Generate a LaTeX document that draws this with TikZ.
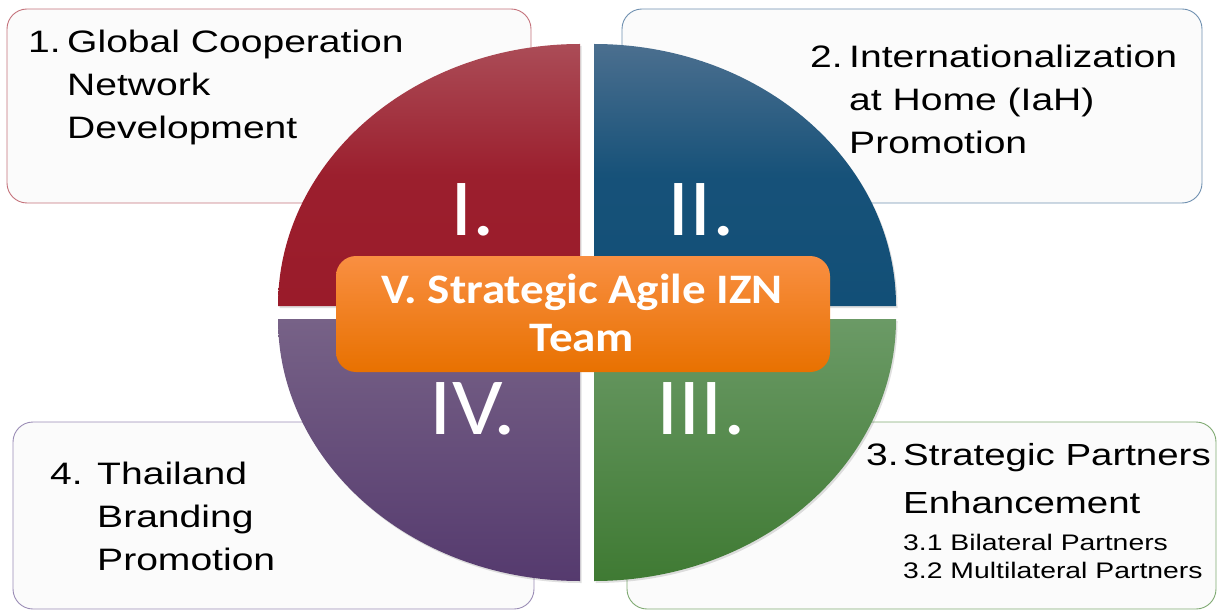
\documentclass[tikz,border=0pt]{standalone}
\usepackage{fontspec}
\setmainfont{Liberation Sans}[FakeStretch=1.26]
\newfontfamily\calfont{Carlito}[FakeStretch=1.1]
\newfontfamily\corefont{Carlito}[FakeStretch=1.12]
\definecolor{boxfill}{HTML}{FBFBFB}
\definecolor{redline}{HTML}{C4727B}
\definecolor{blueline}{HTML}{6F90B0}
\definecolor{greenline}{HTML}{7FAA72}
\definecolor{purpleline}{HTML}{9A8CB5}
\definecolor{redtop}{HTML}{AB4C57}
\definecolor{redbot}{HTML}{9A1B2A}
\definecolor{bluetop}{HTML}{4B6F8F}
\definecolor{bluebot}{HTML}{124F77}
\definecolor{purptop}{HTML}{776287}
\definecolor{purpbot}{HTML}{553A6E}
\definecolor{greentop}{HTML}{6B9A66}
\definecolor{greenbot}{HTML}{3F7A33}
\definecolor{orTop}{HTML}{F98F42}
\definecolor{orMid}{HTML}{F98000}
\definecolor{orBot}{HTML}{E87100}
\begin{document}
\begin{tikzpicture}[x=1pt,y=-1pt,
  tbox/.style={rounded corners=20pt, fill=boxfill, line width=0.9pt},
  qshadow/.style={fill=black, opacity=0.12},
  txt/.style={anchor=base west, inner sep=0pt, font=\fontsize{31}{43}\selectfont},
  subtxt/.style={anchor=base west, inner sep=0pt, font=\fontsize{22.5}{28}\selectfont},
  roman/.style={anchor=base, inner sep=0pt, text=white, font=\calfont\fontsize{81}{81}\selectfont},
  coretxt/.style={anchor=base, inner sep=0pt, text=white, font=\corefont\bfseries\fontsize{42}{48}\selectfont}]
\useasboundingbox (0,0) rectangle (1222,612);
% outer text boxes
\draw[tbox, draw=redline] (7,9) rectangle (531,203);
\draw[tbox, draw=blueline] (622,9) rectangle (1202,203);
\draw[tbox, draw=purpleline] (13,422) rectangle (534,609);
\draw[tbox, draw=greenline] (627,422) rectangle (1216,609);
% quadrant shadows
\fill[qshadow] (581.5,308) -- (279.5,308) arc[start angle=180, end angle=270, x radius=302, y radius=262] -- cycle;
\fill[qshadow] (595.5,308) -- (897.5,308) arc[start angle=0, end angle=-90, x radius=302, y radius=262] -- cycle;
\fill[qshadow] (581.5,321) -- (279.5,321) arc[start angle=180, end angle=90, x radius=302, y radius=262] -- cycle;
\fill[qshadow] (595.5,321) -- (897.5,321) arc[start angle=0, end angle=90, x radius=302, y radius=262] -- cycle;
% quadrants
\shade[top color=redtop, bottom color=redbot, middle color=redbot!92!redtop]
  (580,306) -- (278,306) arc[start angle=180, end angle=270, x radius=302, y radius=262] -- cycle;
\shade[top color=bluetop, bottom color=bluebot, middle color=bluebot!92!bluetop]
  (594,306) -- (896,306) arc[start angle=0, end angle=-90, x radius=302, y radius=262] -- cycle;
\shade[top color=purptop, bottom color=purpbot]
  (580,319) -- (278,319) arc[start angle=180, end angle=90, x radius=302, y radius=262] -- cycle;
\shade[top color=greentop, bottom color=greenbot]
  (594,319) -- (896,319) arc[start angle=0, end angle=90, x radius=302, y radius=262] -- cycle;
% roman numerals
\node[roman] (r1) at (473,236) {I.};
\node[roman] (r2) at (701,236) {II.};
\node[roman] (r4) at (473,434) {IV.};
\node[roman] (r3) at (701,434) {III.};
% core
\node[rounded corners=20pt, minimum width=494pt, minimum height=116pt, inner sep=0pt,
  top color=orTop, middle color=orMid, bottom color=orBot] (core) at (583,314) {};
\node[coretxt] (c1) at (582,303) {V. Strategic Agile IZN};
\node[coretxt] (c2) at (582,351) {Team};
% box texts
\node[txt] (n1) at (28,53) {1.};
\node[txt] (t1) at (67,53) {\begin{tabular}[t]{@{}l@{}}Global Cooperation\\Network\\Development\end{tabular}};
\node[txt] (n2) at (810,68) {2.};
\node[txt] (t2) at (849,68) {\begin{tabular}[t]{@{}l@{}}Internationalization\\at Home (IaH)\\Promotion\end{tabular}};
\node[txt] (n4) at (50,484) {4.};
\node[txt] (t4) at (97,484) {\begin{tabular}[t]{@{}l@{}}Thailand\\Branding\\Promotion\end{tabular}};
\node[txt] (n3) at (866,465) {3.};
\node[txt, font=\fontsize{30.5}{48}\selectfont] (t3) at (903,465) {\begin{tabular}[t]{@{}l@{}}Strategic Partners\\Enhancement\end{tabular}};
\node[subtxt] (s3) at (903,550) {\begin{tabular}[t]{@{}l@{}}3.1 Bilateral Partners\\3.2 Multilateral Partners\end{tabular}};
\end{tikzpicture}
\end{document}
